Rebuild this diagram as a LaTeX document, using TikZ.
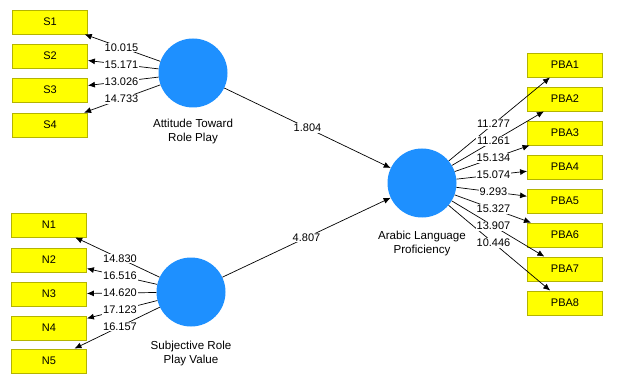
\documentclass[tikz,border=0pt]{standalone}
\usepackage{fontspec}
\setmainfont{Liberation Sans}
\usetikzlibrary{arrows.meta,calc}
\definecolor{plsblue}{RGB}{30,144,255}
\definecolor{boxborder}{RGB}{180,180,0}
\definecolor{boxfill}{RGB}{255,255,0}
\tikzset{
  ind/.style={draw=boxborder, fill=boxfill, line width=0.8pt, minimum width=75pt, minimum height=24pt, inner sep=0pt, font=\fontsize{11}{13}\selectfont},
  lat/.style={circle, fill=plsblue, minimum size=69pt, inner sep=0pt},
  latlbl/.style={align=center, font=\fontsize{11.6}{14}\selectfont, inner sep=0pt},
  lbl/.style={fill=white, inner sep=1pt, font=\fontsize{11}{13}\selectfont},
  arr/.style={-{Latex[length=7pt,width=6pt]}, line width=0.7pt}
}
\begin{document}
\begin{tikzpicture}[x=1pt,y=-1pt]
\useasboundingbox (0,0) rectangle (618,382);
% latent variables
\node[lat] (atrp) at (193,73) {};
\node[lat] (srpv) at (191,292) {};
\node[lat] (alp) at (422,183) {};
\node[latlbl] (atrpl) at (193,132) {Attitude Toward\\Role Play};
\node[latlbl] (srpvl) at (191,353) {Subjective Role\\Play Value};
\node[latlbl] (alpl) at (422,244) {Arabic Language\\Proficiency};
% indicators
\node[ind] (s1) at (50,22) {S1};
\node[ind] (s2) at (50,56) {S2};
\node[ind] (s3) at (50,90) {S3};
\node[ind] (s4) at (50,125) {S4};
\node[ind] (n1) at (49,225) {N1};
\node[ind] (n2) at (49,260) {N2};
\node[ind] (n3) at (49,294) {N3};
\node[ind] (n4) at (49,328) {N4};
\node[ind] (n5) at (49,361) {N5};
\node[ind] (p1) at (565,65) {PBA1};
\node[ind] (p2) at (565,99) {PBA2};
\node[ind] (p3) at (565,133) {PBA3};
\node[ind] (p4) at (565,167) {PBA4};
\node[ind] (p5) at (565,201) {PBA5};
\node[ind] (p6) at (565,235) {PBA6};
\node[ind] (p7) at (565,269) {PBA7};
\node[ind] (p8) at (565,303) {PBA8};
% arrows
\foreach \a/\b in {atrp/s1,atrp/s2,atrp/s3,atrp/s4,srpv/n1,srpv/n2,srpv/n3,srpv/n4,srpv/n5,atrp/alp,srpv/alp,alp/p1,alp/p2,alp/p3,alp/p4,alp/p5,alp/p6,alp/p7,alp/p8}
  \draw[arr] (\a) -- (\b);
% labels
\foreach \a/\b/\t in {atrp/s1/10.015,atrp/s2/15.171,atrp/s3/13.026,atrp/s4/14.733,srpv/n1/14.830,srpv/n2/16.516,srpv/n3/14.620,srpv/n4/17.123,srpv/n5/16.157,atrp/alp/1.804,srpv/alp/4.807,alp/p1/11.277,alp/p2/11.261,alp/p3/15.134,alp/p4/15.074,alp/p5/9.293,alp/p6/15.327,alp/p7/13.907,alp/p8/10.446}
  \path (\a.center) -- node[lbl] {\t} (\b.center);
\end{tikzpicture}
\end{document}
